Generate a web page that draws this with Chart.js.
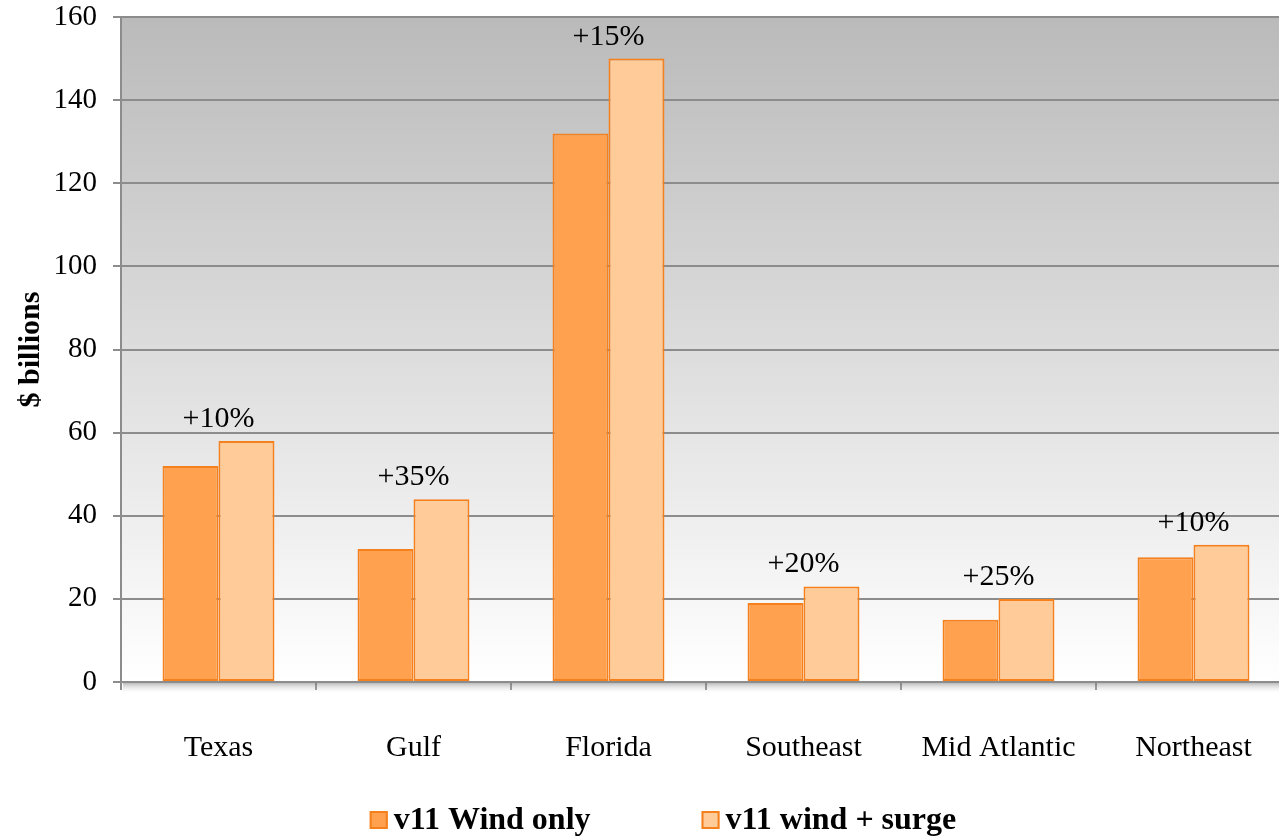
<!DOCTYPE html>
<html>
<head>
<meta charset="utf-8">
<title>Modelled loss by region</title>
<style>
  html, body { margin: 0; padding: 0; overflow: hidden; background: #ffffff; }
  #wrap { position: relative; width: 1324px; height: 837px; }
</style>
<script src="https://cdn.jsdelivr.net/npm/chart.js@4/dist/chart.umd.min.js"></script>
</head>
<body>
<div id="wrap"><canvas id="lossChart" width="1324" height="837"></canvas></div>
<script>
// Regions and modelled losses ($ billions)
const regions = ['Texas', 'Gulf', 'Florida', 'Southeast', 'Mid Atlantic', 'Northeast'];
const windOnly = [52, 32, 132, 19, 15, 30];
const windSurge = [58, 44, 150, 23, 20, 33];
const upliftLabels = ['+10%', '+35%', '+15%', '+20%', '+25%', '+10%'];
const seriesNames = ['v11 Wind only', 'v11 wind + surge'];
const yAxisMax = 160;
const yAxisStep = 20;

const SERIF = '"Liberation Serif", "Times New Roman", Times, serif';
const ORANGE_EDGE = '#f5801e';

// Grey-to-white fill behind the plot area
const plotBackground = {
  id: 'plotBackground',
  beforeDraw(chart) {
    const { ctx, chartArea: a } = chart;
    const g = ctx.createLinearGradient(0, a.top, 0, a.bottom);
    g.addColorStop(0, '#bababa');
    g.addColorStop(1, '#ffffff');
    ctx.save();
    ctx.fillStyle = g;
    ctx.fillRect(a.left, a.top, a.right - a.left, a.bottom - a.top);
    ctx.restore();
  }
};

// Soft shadow under the category axis
const axisShadow = {
  id: 'axisShadow',
  beforeDatasetsDraw(chart) {
    const { ctx, chartArea: a } = chart;
    const g = ctx.createLinearGradient(0, a.bottom, 0, a.bottom + 12);
    g.addColorStop(0, 'rgba(110,110,110,0.55)');
    g.addColorStop(1, 'rgba(255,255,255,0)');
    ctx.save();
    ctx.fillStyle = g;
    ctx.fillRect(a.left + 2, a.bottom + 1, a.right - a.left, 12);
    ctx.restore();
  }
};

// Percentage uplift written above each pair of bars
const upliftText = {
  id: 'upliftText',
  afterDatasetsDraw(chart) {
    const { ctx } = chart;
    const m0 = chart.getDatasetMeta(0);
    const m1 = chart.getDatasetMeta(1);
    ctx.save();
    ctx.font = '30px ' + SERIF;
    ctx.fillStyle = '#000000';
    ctx.textAlign = 'center';
    ctx.textBaseline = 'alphabetic';
    upliftLabels.forEach((txt, i) => {
      const b0 = m0.data[i], b1 = m1.data[i];
      const cx = (b0.x + b1.x) / 2;
      const top = Math.min(b0.y, b1.y);
      ctx.fillText(txt, cx, top - 14);
    });
    ctx.restore();
  }
};

// Series key along the bottom edge, built from the datasets
const seriesKey = {
  id: 'seriesKey',
  afterDraw(chart, args, opts) {
    const { ctx } = chart;
    ctx.save();
    ctx.font = 'bold ' + opts.fontSize + 'px ' + SERIF;
    const items = chart.data.datasets.map(ds => ({
      text: ds.label,
      fill: ds.backgroundColor,
      edge: ds.borderColor,
      w: ctx.measureText(ds.label).width
    }));
    const total = items.reduce((s, it) => s + opts.box + opts.textGap + it.w, 0)
      + opts.itemGap * (items.length - 1);
    let x = opts.centerX - total / 2;
    const y = opts.centerY;
    ctx.textBaseline = 'middle';
    ctx.textAlign = 'left';
    items.forEach(it => {
      ctx.fillStyle = it.fill;
      ctx.fillRect(x, y - opts.box / 2, opts.box, opts.box);
      ctx.strokeStyle = it.edge;
      ctx.lineWidth = 2;
      ctx.strokeRect(x + 1, y - opts.box / 2 + 1, opts.box - 2, opts.box - 2);
      ctx.fillStyle = '#000000';
      ctx.fillText(it.text, x + opts.box + opts.textGap, y + 1);
      x += opts.box + opts.textGap + it.w + opts.itemGap;
    });
    ctx.restore();
  }
};

new Chart(document.getElementById('lossChart'), {
  type: 'bar',
  data: {
    labels: regions,
    datasets: [
      {
        label: seriesNames[0],
        data: windOnly,
        backgroundColor: '#ffa14f',
        borderColor: ORANGE_EDGE,
        borderWidth: 2,
        borderSkipped: false
      },
      {
        label: seriesNames[1],
        data: windSurge,
        backgroundColor: '#ffcc99',
        borderColor: ORANGE_EDGE,
        borderWidth: 2,
        borderSkipped: false
      }
    ]
  },
  options: {
    responsive: false,
    animation: false,
    layout: { padding: { left: 10, right: 33, top: 17, bottom: 31 } },
    datasets: { bar: { barPercentage: 1, categoryPercentage: 0.574 } },
    plugins: {
      tooltip: { enabled: false },
      legend: { display: false },
      seriesKey: { centerX: 663, centerY: 820, fontSize: 32, box: 18, textGap: 6, itemGap: 111 }
    },
    scales: {
      x: {
        grid: {
          drawOnChartArea: false,
          drawTicks: true,
          tickLength: 8,
          color: '#8c8c8c',
          lineWidth: 2,
          offset: true
        },
        border: { display: true, color: '#8c8c8c', width: 2 },
        ticks: {
          color: '#000000',
          padding: 40,
          maxRotation: 0,
          font: { family: SERIF, size: 30 }
        }
      },
      y: {
        min: 0,
        max: yAxisMax,
        afterFit(scale) {
          scale.width = 111;
          scale.paddingTop = 0;
          scale.paddingBottom = 0;
        },
        grid: { color: '#8c8c8c', lineWidth: 2, tickLength: 8 },
        border: { display: true, color: '#8c8c8c', width: 2 },
        ticks: {
          stepSize: yAxisStep,
          color: '#000000',
          padding: 16,
          font: { family: SERIF, size: 29 }
        },
        title: {
          display: true,
          text: '$ billions',
          color: '#000000',
          padding: { top: 3, bottom: 6 },
          font: { family: SERIF, size: 30, weight: 'bold' }
        }
      }
    }
  },
  plugins: [plotBackground, axisShadow, upliftText, seriesKey]
});
</script>
</body>
</html>
